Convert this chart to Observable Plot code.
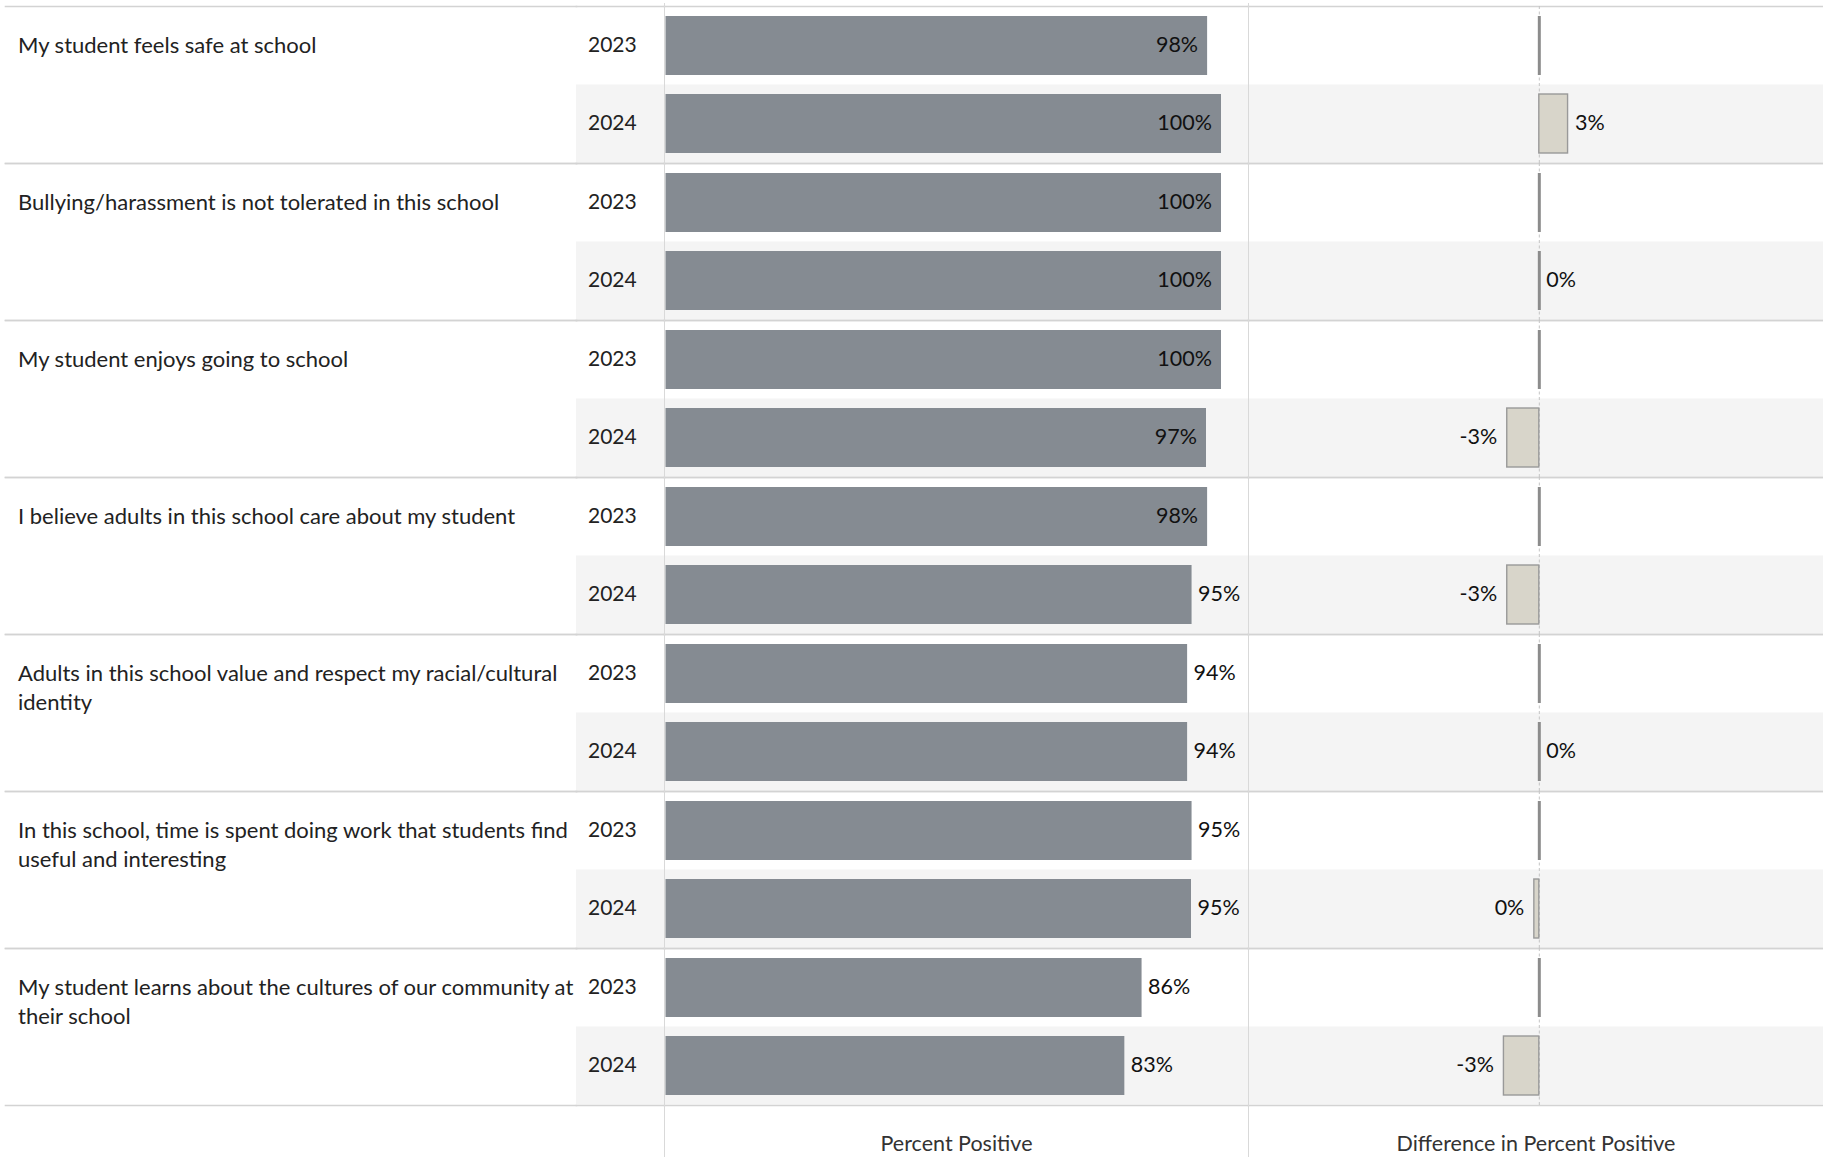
<!DOCTYPE html>
<html>
<head>
<meta charset="utf-8">
<script src="https://cdn.jsdelivr.net/npm/d3@7"></script>
<script src="https://cdn.jsdelivr.net/npm/@observablehq/plot@0.6"></script>
<style>
  html, body { margin: 0; padding: 0; background: #fff; }
  #chart { position: relative; width: 1823px; height: 1157px; overflow: hidden; font-family: Lato, sans-serif; }
  #chart .panel { position: absolute; top: 0; }
  #chart .vline { position: absolute; top: 3px; bottom: 0; width: 0; border-left: 1px solid #d9d9d9; }
</style>
</head>
<body>
<div id="chart"></div>
<script>
// ---------------- data ----------------
const questions = [
  "My student feels safe at school",
  "Bullying/harassment is not tolerated in this school",
  "My student enjoys going to school",
  "I believe adults in this school care about my student",
  "Adults in this school value and respect my racial/cultural identity",
  "In this school, time is spent doing work that students find useful and interesting",
  "My student learns about the cultures of our community at their school"
];
const years = ["2023", "2024"];
const pct2023 = [97.5, 100, 100, 97.5, 93.9, 94.7, 85.7];
const pct2024 = [100, 100, 97.3, 94.7, 93.9, 94.6, 82.6];
const diff2024 = [2.6, 0, -2.9, -2.9, 0, -0.45, -3.2];
const axisTitles = ["Percent Positive", "Difference in Percent Positive"];

// ---------------- derived table ----------------
const rows = questions.flatMap((q, i) => [
  {q, year: years[0], pct: pct2023[i], diff: null},
  {q, year: years[1], pct: pct2024[i], diff: diff2024[i]}
]);

const FONT = "Lato, sans-serif";
const FS = 21.5;
const FSQ = 22;
const FSY = 21;
const TEXT = "#222";
const LINE = "#d3d3d3";
const BAND = "#f4f4f4";
const BAR = "#858b92";
const DIFF_FILL = "#d8d5ca";
const DIFF_STROKE = "#999999";

const ctx = document.createElement("canvas").getContext("2d");
function measure(t, size = FS) { ctx.font = `${size}px Lato`; return ctx.measureText(t).width; }
function wrap(text, maxW, size) {
  const words = text.split(" ");
  const lines = [];
  let cur = "";
  for (const w of words) {
    const t = cur ? cur + " " + w : w;
    if (cur && measure(t, size) > maxW) { lines.push(cur); cur = w; } else cur = t;
  }
  if (cur) lines.push(cur);
  return lines.join("\n");
}
const fmt = v => { const s = v.toFixed(0); return (s === "-0" ? "0" : s) + "%"; };

const H = 1157, MT = 3.5, MB = 49;
const INSET = 9.5;
const common = {
  height: H, marginTop: MT, marginBottom: MB, marginRight: 0,
  fy: {domain: questions, padding: 0, axis: null},
  y: {type: "band", domain: years, padding: 0, axis: null},
  style: {fontFamily: FONT, fontSize: FS + "px", color: TEXT, background: "transparent", overflow: "visible"}
};
const sepLines = [
  Plot.frame({anchor: "top", stroke: LINE, strokeWidth: 1.6}),
  Plot.frame({anchor: "bottom", stroke: LINE, strokeWidth: 1.6})
];
const lastQ = questions[questions.length - 1];

function render() {
  const chart = document.getElementById("chart");

  // Panel A1: question labels
  const wA1 = 576;
  const pA1 = Plot.plot({
    ...common, width: wA1, marginLeft: 5,
    marks: [
      ...sepLines,
      Plot.text(rows.filter(d => d.year === years[0]), {
        fy: "q", y: "year", text: d => wrap(d.q, 565, FSQ),
        frameAnchor: "left", textAnchor: "start", lineAnchor: "top",
        dx: 12.5, dy: -13.5, lineHeight: 1.31, fill: TEXT, fontSize: FSQ
      })
    ]
  });

  // Panel A2: years
  const wA2 = 88;
  const pA2 = Plot.plot({
    ...common, width: wA2, marginLeft: 0,
    marks: [
      Plot.cell(rows.filter(d => d.year === years[1]), {fy: "q", y: "year", fill: BAND}),
      ...sepLines,
      Plot.text(rows, {fy: "q", y: "year", text: "year", frameAnchor: "left", textAnchor: "start", dx: 11.5, dy: -1, fill: TEXT, fontSize: FSY})
    ]
  });

  // Panel B: percent positive bars
  const wB = 584;
  const xB = d3.scaleLinear([0, 100], [1.5, 557]);
  const labelOutside = d => xB(d.pct) + 6 + measure(fmt(d.pct)) <= wB - 4;
  const pB = Plot.plot({
    ...common, width: wB, marginLeft: 0,
    x: {domain: xB.domain(), range: xB.range(), axis: null},
    marks: [
      Plot.cell(rows.filter(d => d.year === years[1]), {fy: "q", y: "year", fill: BAND}),
      ...sepLines,
      Plot.barX(rows, {fy: "q", y: "year", x1: 0, x2: "pct", fill: BAR, insetTop: INSET, insetBottom: INSET}),
      Plot.text(rows.filter(d => !labelOutside(d)), {fy: "q", y: "year", x: "pct", text: d => fmt(d.pct), textAnchor: "end", dx: -9.5, dy: -1, fill: "#111", fontSize: FS}),
      Plot.text(rows.filter(labelOutside), {fy: "q", y: "year", x: "pct", text: d => fmt(d.pct), textAnchor: "start", dx: 6, dy: -1, fill: "#111", fontSize: FS}),
      Plot.text([{q: lastQ}], {fy: "q", text: () => axisTitles[0], frameAnchor: "bottom", dy: 45, fill: "#333", fontSize: FS})
    ]
  });

  // Panel C: difference
  const wC = 575;
  const pC = Plot.plot({
    ...common, width: wC, marginLeft: 0,
    x: {domain: [-26.3, 25.7], range: [0, wC], axis: null},
    marks: [
      Plot.cell(rows.filter(d => d.year === years[1]), {fy: "q", y: "year", fill: BAND}),
      ...sepLines,
      Plot.ruleX([0], {stroke: "#c4c4c4", strokeDasharray: "3,2.5", strokeWidth: 1}),
      Plot.tickX(rows.filter(d => d.diff == null || d.diff === 0), {fy: "q", y: "year", x: () => 0, stroke: "#8c8c8c", strokeWidth: 3, insetTop: INSET, insetBottom: INSET}),
      Plot.barX(rows.filter(d => d.diff), {fy: "q", y: "year", x1: 0, x2: "diff", fill: DIFF_FILL, stroke: DIFF_STROKE, strokeWidth: 1.4, insetTop: INSET, insetBottom: INSET}),
      Plot.text(rows.filter(d => d.diff != null && d.diff >= 0), {fy: "q", y: "year", x: "diff", text: d => fmt(d.diff), textAnchor: "start", dx: 7, dy: -1, fill: "#111", fontSize: FS}),
      Plot.text(rows.filter(d => d.diff != null && d.diff < 0), {fy: "q", y: "year", x: "diff", text: d => fmt(d.diff), textAnchor: "end", dx: -10, dy: -1, fill: "#111", fontSize: FS}),
      Plot.text([{q: lastQ}], {fy: "q", text: () => axisTitles[1], frameAnchor: "bottom", dy: 45, fill: "#333", fontSize: FS})
    ]
  });

  const panels = [[pA1, 0], [pA2, wA1], [pB, wA1 + wA2], [pC, wA1 + wA2 + wB]];
  for (const [svg, left] of panels) {
    const div = document.createElement("div");
    div.className = "panel";
    div.style.left = left + "px";
    div.appendChild(svg);
    chart.appendChild(div);
  }
  for (const left of [wA1 + wA2, wA1 + wA2 + wB - 0.5]) {
    const v = document.createElement("div");
    v.className = "vline";
    v.style.left = left + "px";
    chart.appendChild(v);
  }
}
(document.fonts && document.fonts.ready ? document.fonts.ready : Promise.resolve()).then(render);
</script>
</body>
</html>
